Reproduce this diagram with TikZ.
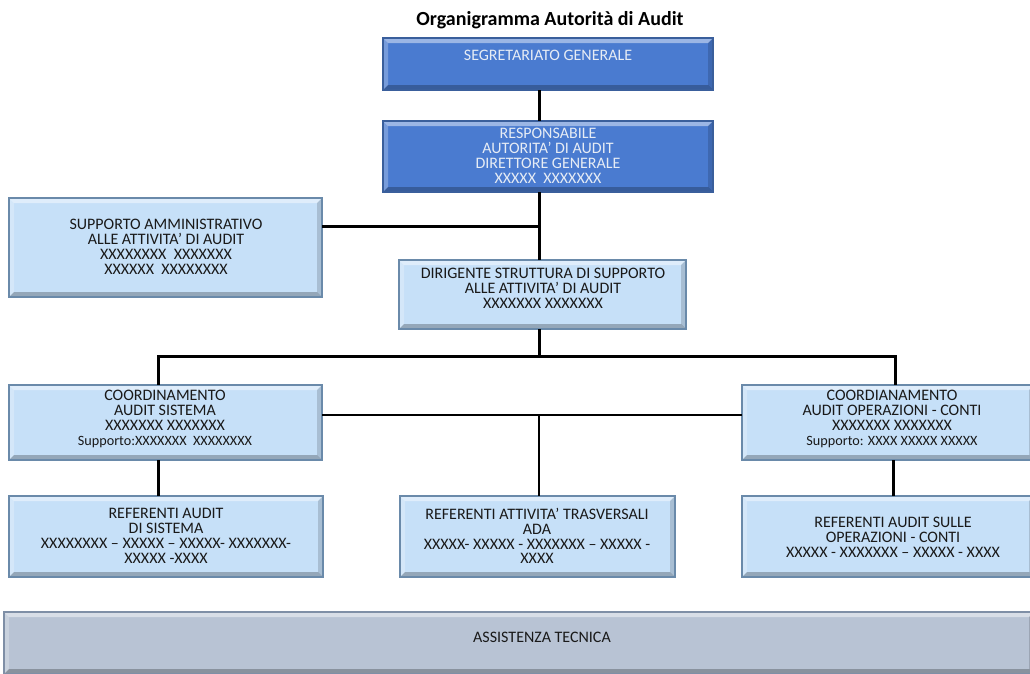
\documentclass[tikz,border=0pt]{standalone}
\usepackage{fontspec}
\setmainfont{Carlito}
\usetikzlibrary{calc}
\definecolor{darkfill}{HTML}{4A7BD0}
\definecolor{darkedge}{HTML}{3A5F9C}
\definecolor{lightfill}{HTML}{C6E0F8}
\definecolor{lightedge}{HTML}{6A8AAA}
\definecolor{grayfill}{HTML}{B8C3D4}
\definecolor{grayedge}{HTML}{7F8FA6}
\definecolor{darktext}{HTML}{E6ECF5}
\tikzset{
  x=1pt, y=1pt,
  bevel/.style={path picture={
    \fill[white, opacity=0.45]
      (path picture bounding box.north west) -- (path picture bounding box.north east)
      -- ($(path picture bounding box.north east)+(-5,-5)$)
      -- ($(path picture bounding box.north west)+(5,-5)$) -- cycle;
    \fill[white, opacity=0.25]
      (path picture bounding box.north west) -- ($(path picture bounding box.north west)+(5,-5)$)
      -- ($(path picture bounding box.south west)+(5,5)$)
      -- (path picture bounding box.south west) -- cycle;
    \fill[black, opacity=0.25]
      (path picture bounding box.south west) -- (path picture bounding box.south east)
      -- ($(path picture bounding box.south east)+(-5,5)$)
      -- ($(path picture bounding box.south west)+(5,5)$) -- cycle;
    \fill[black, opacity=0.15]
      (path picture bounding box.north east) -- ($(path picture bounding box.north east)+(-5,-5)$)
      -- ($(path picture bounding box.south east)+(-5,5)$)
      -- (path picture bounding box.south east) -- cycle;
  }},
  box/.style={anchor=north west, inner sep=0pt, outer sep=0pt, bevel},
  darkbox/.style={box, fill=darkfill, draw=darkedge, line width=1.2pt},
  lightbox/.style={box, fill=lightfill, draw=lightedge, line width=1.2pt},
  graybox/.style={box, fill=grayfill, draw=grayedge, line width=1.2pt},
  txt/.style={align=center, inner sep=0pt, font=\fontsize{16}{14.8}\selectfont, text=black!90},
  dtxt/.style={txt, text=darktext},
  link/.style={line width=3pt, black}
}
\newcommand{\smalltxt}{\fontsize{14.2}{14.8}\selectfont}
\begin{document}
\begin{tikzpicture}
\useasboundingbox (0,0) rectangle (1030,-673);

% title
\node[font=\fontsize{20}{22}\selectfont\bfseries, inner sep=0pt] (title) at (550,-20) {Organigramma Autorità di Audit};

% boxes
\node[darkbox, minimum width=330, minimum height=52] (seg) at (383,-38) {};
\node[darkbox, minimum width=330, minimum height=71] (resp) at (383,-121) {};
\node[lightbox, minimum width=313, minimum height=99] (supp) at (9,-198) {};
\node[lightbox, minimum width=287, minimum height=69] (dir) at (399,-260) {};
\node[lightbox, minimum width=313, minimum height=75] (coordA) at (9,-385) {};
\node[lightbox, minimum width=292, minimum height=75] (coordB) at (742,-385) {};
\node[lightbox, minimum width=314, minimum height=81] (refA) at (9,-496) {};
\node[lightbox, minimum width=275, minimum height=81] (refT) at (400,-496) {};
\node[lightbox, minimum width=292, minimum height=81] (refB) at (742,-496) {};
\node[graybox, minimum width=1030, minimum height=62] (ass) at (4,-612) {};

% box texts
\node[dtxt] (seg-t) at (548,-55) {SEGRETARIATO GENERALE};
\node[dtxt] (resp-t) at (548,-156) {RESPONSABILE\\AUTORITA’ DI AUDIT\\DIRETTORE GENERALE\\XXXXX\ \ XXXXXXX};
\node[txt] (supp-t) at (166,-247) {SUPPORTO AMMINISTRATIVO\\ALLE ATTIVITA’ DI AUDIT\\XXXXXXXX\ \ XXXXXXX\\XXXXXX\ \ XXXXXXXX};
\node[txt] (dir-t) at (543,-288) {DIRIGENTE STRUTTURA DI SUPPORTO\\ALLE ATTIVITA’ DI AUDIT\\XXXXXXX XXXXXXX};
\node[txt] (coordA-t) at (165,-419) {COORDINAMENTO\\AUDIT SISTEMA\\XXXXXXX XXXXXXX\\{\smalltxt Supporto:XXXXXXX\ \ XXXXXXXX}};
\node[txt] (coordB-t) at (892,-419) {COORDIANAMENTO\\AUDIT OPERAZIONI - CONTI\\XXXXXXX XXXXXXX\\{\smalltxt Supporto: XXXX XXXXX XXXXX}};
\node[txt] (refA-t) at (166,-536) {REFERENTI AUDIT\\DI SISTEMA\\XXXXXXXX – XXXXX – XXXXX- XXXXXXX-\\XXXXX -XXXX};
\node[txt] (refT-t) at (537,-536) {REFERENTI ATTIVITA’ TRASVERSALI\\ADA\\XXXXX- XXXXX - XXXXXXX – XXXXX -\\XXXX};
\node[txt] (refB-t) at (893,-537) {REFERENTI AUDIT SULLE\\OPERAZIONI - CONTI\\XXXXX - XXXXXXX – XXXXX - XXXX};
\node[txt] (ass-t) at (542,-637) {ASSISTENZA TECNICA};

% junction points
\coordinate (spine) at (539,-226);
\coordinate (split) at (539,-356);
\coordinate (legA) at (158,-356);
\coordinate (legB) at (895,-356);
\coordinate (cross) at (539,-415);
\coordinate (downA) at (158,-460);
\coordinate (downB) at (893,-460);

% connectors
\draw[link] (seg.south -| spine) -- (resp.north -| spine);
\draw[link] (resp.south -| spine) -- (dir.north -| spine);
\draw[link] (spine) -- (spine -| supp.east);
\draw[link] (dir.south -| split) -- (split);
\draw[link] (legA |- coordA.north) -- (legA) -- (legB) -- (legB |- coordB.north);
\draw[link, line width=2.5pt] (coordA.east |- cross) -- (coordB.west |- cross);
\draw[link, line width=2.5pt] (cross) -- (cross |- refT.north);
\draw[link] (downA |- coordA.south) -- (downA |- refA.north);
\draw[link] (downB |- coordB.south) -- (downB |- refB.north);
\end{tikzpicture}
\end{document}
